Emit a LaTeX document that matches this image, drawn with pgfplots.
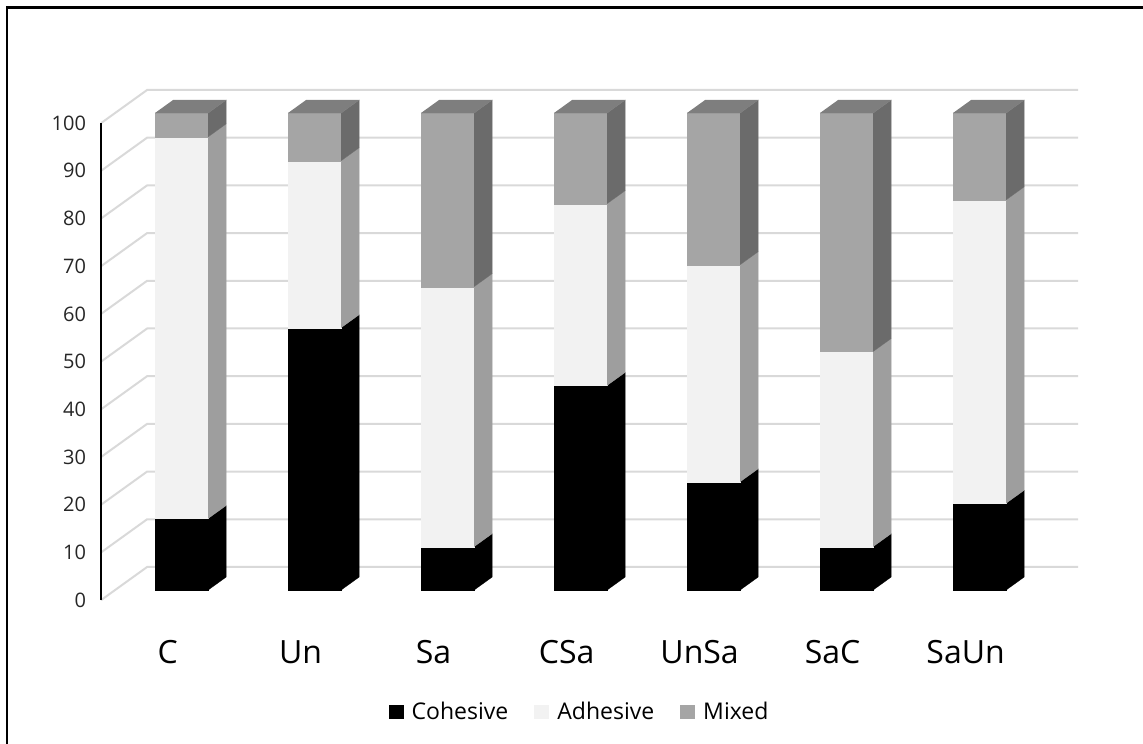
\documentclass[border=0pt]{standalone}
\usepackage{fontspec}
\setmainfont{Open Sans}
\usepackage{pgfplots}
\pgfplotsset{compat=1.18}

\definecolor{cohF}{HTML}{000000}
\definecolor{adhF}{HTML}{F2F2F2}
\definecolor{adhS}{HTML}{9E9E9E}
\definecolor{mixF}{HTML}{A5A5A5}
\definecolor{mixS}{HTML}{6B6B6B}
\definecolor{mixT}{HTML}{7E7E7E}
\definecolor{gridc}{HTML}{D9D9D9}

% front and right-hand face of one segment: x left, x right, z bottom, z top, front colour, side colour
\newcommand\face[6]{%
  \addplot3[fill=#5, draw=#5, line width=0.1pt, mark=none] coordinates {(#1,14,#3) (#2,14,#3) (#2,14,#4) (#1,14,#4)};
  \addplot3[fill=#6, draw=#6, line width=0.1pt, mark=none] coordinates {(#2,14,#3) (#2,32,#3) (#2,32,#4) (#2,14,#4)};
}
% one stacked 3D bar: category position, cohesive, adhesive, mixed (percent)
\newcommand\stackbar[4]{%
  \pgfmathsetmacro\xl{#1-0.2}%
  \pgfmathsetmacro\xr{#1+0.2}%
  \pgfmathsetmacro\za{#2}%
  \pgfmathsetmacro\zb{#2+#3}%
  \pgfmathsetmacro\zc{#2+#3+#4}%
  \face{\xl}{\xr}{0}{\za}{cohF}{cohF}
  \face{\xl}{\xr}{\za}{\zb}{adhF}{adhS}
  \face{\xl}{\xr}{\zb}{\zc}{mixF}{mixS}
  \addplot3[fill=mixT, draw=mixT, line width=0.1pt, mark=none] coordinates {(\xl,14,\zc) (\xr,14,\zc) (\xr,32,\zc) (\xl,32,\zc)};
}

\begin{document}
\begin{tikzpicture}
\useasboundingbox (-83.8pt,-71.45pt) rectangle (487.7pt,300.05pt);
\draw[line width=1.25pt] (-80.3pt,-75pt) -- (-80.3pt,296.3pt) -- (490pt,296.3pt);

% depth walls, grid and bars
\begin{axis}[
  at={(0pt,0pt)}, anchor=origin,
  x={(66.5pt,0pt)}, y={(0.5pt,0.36pt)}, z={(0pt,2.385pt)},
  xmin=-0.5, xmax=6.5, ymin=0, ymax=46, zmin=0, zmax=100,
  enlargelimits=false, hide axis, clip=false,
]
\pgfplotsinvokeforeach{0,10,...,100}{
  \addplot3[gridc, line width=1pt, mark=none] coordinates {(-0.5,0,#1) (-0.5,46,#1) (6.5,46,#1)};
}
\stackbar{0}{15}{80}{5}
\stackbar{1}{55}{35}{10}
\stackbar{2}{9.1}{54.5}{36.4}
\stackbar{3}{42.9}{38.1}{19.0}
\stackbar{4}{22.7}{45.5}{31.8}
\stackbar{5}{9.1}{40.9}{50.0}
\stackbar{6}{18.2}{63.6}{18.2}
\end{axis}

% front plane: value axis, category names and legend
\begin{axis}[
  at={(0pt,0pt)}, anchor=origin,
  x=66.5pt, y=2.385pt,
  xmin=-0.5, xmax=6.5, ymin=0, ymax=100,
  enlargelimits=false,
  axis x line*=bottom, axis y line*=left,
  x axis line style={draw=none},
  y axis line style={black, line width=1pt},
  xtick={0,...,6}, xticklabels={C,Un,Sa,CSa,UnSa,SaC,SaUn},
  ytick={0,10,...,100},
  major tick length=0pt,
  /pgf/number format/assume math mode=true,
  yticklabel style={font=\fontsize{10}{11}\selectfont, text=black!85, xshift=-4pt},
  xticklabel style={font=\fontsize{16}{18}\selectfont, text=black, yshift=-16.5pt},
  legend columns=3,
  legend style={draw=none, at={(0.515,-0.235)}, anchor=center,
    font=\fontsize{11.5}{13}\selectfont,
    /tikz/every odd column/.append style={column sep=2pt},
    /tikz/every even column/.append style={column sep=11pt}},
  legend image code/.code={\fill[#1] (0pt,-3.5pt) rectangle (7.5pt,3.5pt);},
]
\addlegendimage{fill=cohF, draw=none}
\addlegendentry{Cohesive}
\addlegendimage{fill=adhF, draw=none}
\addlegendentry{Adhesive}
\addlegendimage{fill=mixF, draw=none}
\addlegendentry{Mixed}
\end{axis}
\end{tikzpicture}
\end{document}
